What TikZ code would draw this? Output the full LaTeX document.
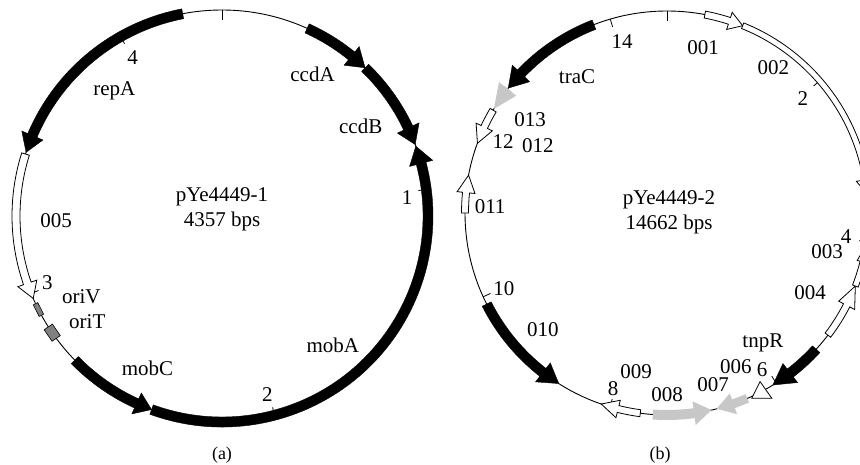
\documentclass[tikz,border=0pt]{standalone}
\usepackage{fontspec}
\setmainfont{Liberation Serif}
\usepackage{tikz}
\usetikzlibrary{calc}

% gene arrow on a circle: [style]{centre}{radius}{start}{tip}{half width}{head half width}{head length in deg}
\newcommand{\gene}[8][]{%
  \pgfmathsetmacro{\hb}{#5-sign(#5-#4)*#8}%
  \filldraw[#1] ($(#2)+({#4}:{#3+#6})$) arc[start angle=#4, end angle=\hb, radius=#3+#6]
    -- ($(#2)+({\hb}:{#3+#7})$) -- ($(#2)+({#5}:{#3})$) -- ($(#2)+({\hb}:{#3-#7})$)
    -- ($(#2)+({\hb}:{#3-#6})$) arc[start angle=\hb, end angle=#4, radius=#3-#6] -- cycle;}

\begin{document}
\begin{tikzpicture}[
    x=1pt, y=1pt,
    backbone/.style={line width=0.9pt},
    tickmark/.style={line width=0.8pt},
    blk/.style={fill=black, draw=black, line width=0.4pt},
    opn/.style={fill=white, draw=black, line width=0.8pt},
    gry/.style={fill=black!22, draw=none},
    orisite/.style={rectangle, draw, fill=black!50, line width=0.6pt, inner sep=0pt},
    lbl/.style={font=\fontsize{21}{25}\selectfont, inner sep=0pt},
    caption/.style={font=\fontsize{18}{20}\selectfont, inner sep=0pt}
]
\useasboundingbox (0,0) rectangle (860,-465);
\clip (0,0) rectangle (860,-465);

\coordinate (ca) at (222,-216);
\coordinate (cb) at (667,-213);

% ---- (a): pYe4449-1 ----
\draw[backbone] (ca) circle[radius=206];
\draw[tickmark] ($(ca)+(90:206)$)     -- ($(ca)+(90:196)$);
\draw[tickmark] ($(ca)+(7.4:206)$)    -- ($(ca)+(7.4:198)$);
\draw[tickmark] ($(ca)+(-75.2:206)$)  -- ($(ca)+(-75.2:198)$);
\draw[tickmark] ($(ca)+(-157.9:206)$) -- ($(ca)+(-157.9:198)$);
\draw[tickmark] ($(ca)+(119.5:206)$)  -- ($(ca)+(119.5:198)$);

\gene[blk]{ca}{206}{101}{162}{5}{11.5}{5}
\gene[opn]{ca}{206}{162.5}{203.6}{4}{10}{4.5}
\gene[blk]{ca}{206}{224.4}{250}{5}{11.5}{4.5}
\gene[blk]{ca}{206}{-110}{19.8}{5}{12}{5}
\gene[blk]{ca}{206}{65.6}{46}{5}{12}{5}
\gene[blk]{ca}{206}{46}{20.3}{5}{12}{5}

\node[orisite, minimum width=13pt, minimum height=5pt, rotate=117]
    (oriVbox) at ($(ca)+(207:206)$) {};
\node[orisite, minimum width=14pt, minimum height=10pt, rotate=124.5]
    (oriTbox) at ($(ca)+(214.5:206)$) {};

\node[lbl] (t4a)  at ($(ca)+(119.4:182)$) {4};
\node[lbl] (repA) at ($(ca)+(130.6:165.5)$) {repA};
\node[lbl] (ccdA) at ($(ca)+(57.4:168)$) {ccdA};
\node[lbl] (ccdB) at ($(ca)+(32.8:165)$) {ccdB};
\node[lbl] (t1a)  at ($(ca)+(5.6:186)$) {1};
\node[lbl] (g005) at ($(ca)+(181.7:166)$) {005};
\node[lbl] (t3a)  at ($(ca)+(201:187)$) {3};
\node[lbl] (oriV) at ($(ca)+(209.7:162)$) {oriV};
\node[lbl] (oriT) at ($(ca)+(218:171)$) {oriT};
\node[lbl] (mobC) at ($(ca)+(244:170)$) {mobC};
\node[lbl] (mobA) at ($(ca)+(-49.3:170)$) {mobA};
\node[lbl] (t2a)  at ($(ca)+(-75.7:184)$) {2};

\node[lbl, align=center] (nameA) at ($(ca)+(0,6.5)$) {pYe4449-1\\4357 bps};
\node[caption] (capA) at (222,-455) {(a)};

% ---- (b): pYe4449-2 ----
\draw[backbone] (cb) circle[radius=202];
\draw[tickmark] ($(cb)+(90:202)$)     -- ($(cb)+(90:192)$);
\draw[tickmark] ($(cb)+(40.9:202)$)   -- ($(cb)+(40.9:194)$);
\draw[tickmark] ($(cb)+(-8.2:202)$)   -- ($(cb)+(-8.2:194)$);
\draw[tickmark] ($(cb)+(-57.3:202)$)  -- ($(cb)+(-57.3:194)$);
\draw[tickmark] ($(cb)+(-106.4:202)$) -- ($(cb)+(-106.4:194)$);
\draw[tickmark] ($(cb)+(204.5:202)$)  -- ($(cb)+(204.5:194)$);
\draw[tickmark] ($(cb)+(155.4:202)$)  -- ($(cb)+(155.4:194)$);
\draw[tickmark] ($(cb)+(106.3:202)$)  -- ($(cb)+(106.3:194)$);

\gene[opn]{cb}{202}{79.2}{68}{3.5}{9}{4}
\gene[opn]{cb}{202}{68}{5}{3}{10}{4.5}
\gene[opn]{cb}{202}{-37.2}{-21.2}{3.5}{9}{6}
\gene[opn]{cb}{202}{-21.2}{-9}{3}{6}{5}
\gene[blk]{cb}{202}{-42.4}{-58.4}{5}{12}{6}
\filldraw[opn] ($(cb)+(-61.1:192.6)$) -- ($(cb)+(-65.4:203.7)$)
    -- ($(cb)+(-60.5:212.8)$) -- cycle;
\gene[gry]{cb}{202}{-66.6}{-75.8}{4.5}{11}{5}
\gene[gry]{cb}{202}{-94}{-77.3}{5}{12}{5}
\gene[opn]{cb}{202}{-97.6}{-109}{3.5}{9}{5}
\gene[blk]{cb}{202}{206.8}{237.6}{5}{12}{5.5}
\gene[opn]{cb}{202}{180}{169.2}{3.5}{9}{5}
\gene[opn]{cb}{202}{149.4}{159.8}{3.5}{9}{5}
\gene[gry]{cb}{202}{142}{149}{4.5}{11}{6.9}
\gene[blk]{cb}{202}{111.2}{141.8}{5}{12}{5.5}

\node[lbl] (t14b) at ($(cb)+(104.7:177)$) {14};
\node[lbl] (g001) at ($(cb)+(77.7:169)$) {001};
\node[lbl] (g002) at ($(cb)+(53.8:180)$) {002};
\node[lbl] (t2b)  at ($(cb)+(40.2:178)$) {2};
\node[lbl] (traC) at ($(cb)+(123.5:163)$) {traC};
\node[lbl] (g013) at ($(cb)+(145.8:165.6)$) {013};
\node[lbl] (t12b) at ($(cb)+(156.6:178.7)$) {12};
\node[lbl] (g012) at ($(cb)+(152.6:145.4)$) {012};
\node[lbl] (g011) at ($(cb)+(178:177)$) {011};
\node[lbl] (t4b)  at ($(cb)+(-7.6:180.6)$) {4};
\node[lbl] (g003) at ($(cb)+(-13.7:164.7)$) {003};
\node[lbl] (g004) at ($(cb)+(-29.2:164)$) {004};
\node[lbl] (tnpR) at ($(cb)+(-53.6:161.6)$) {tnpR};
\node[lbl] (g006) at ($(cb)+(-65.9:168.8)$) {006};
\node[lbl] (t6b)  at ($(cb)+(-58.8:183.5)$) {6};
\node[lbl] (g007) at ($(cb)+(-75:178)$) {007};
\node[lbl] (g008) at ($(cb)+(-90:182)$) {008};
\node[lbl] (g009) at ($(cb)+(-101:162)$) {009};
\node[lbl] (t8b)  at ($(cb)+(-107:184)$) {8};
\node[lbl] (t10b) at ($(cb)+(205:180)$) {10};
\node[lbl] (g010) at ($(cb)+(223.3:170.5)$) {010};

\node[lbl, align=center] (nameB) at ($(cb)+(2,0.5)$) {pYe4449-2\\14662 bps};
\node[caption] (capB) at (660,-455) {(b)};

\end{tikzpicture}
\end{document}
